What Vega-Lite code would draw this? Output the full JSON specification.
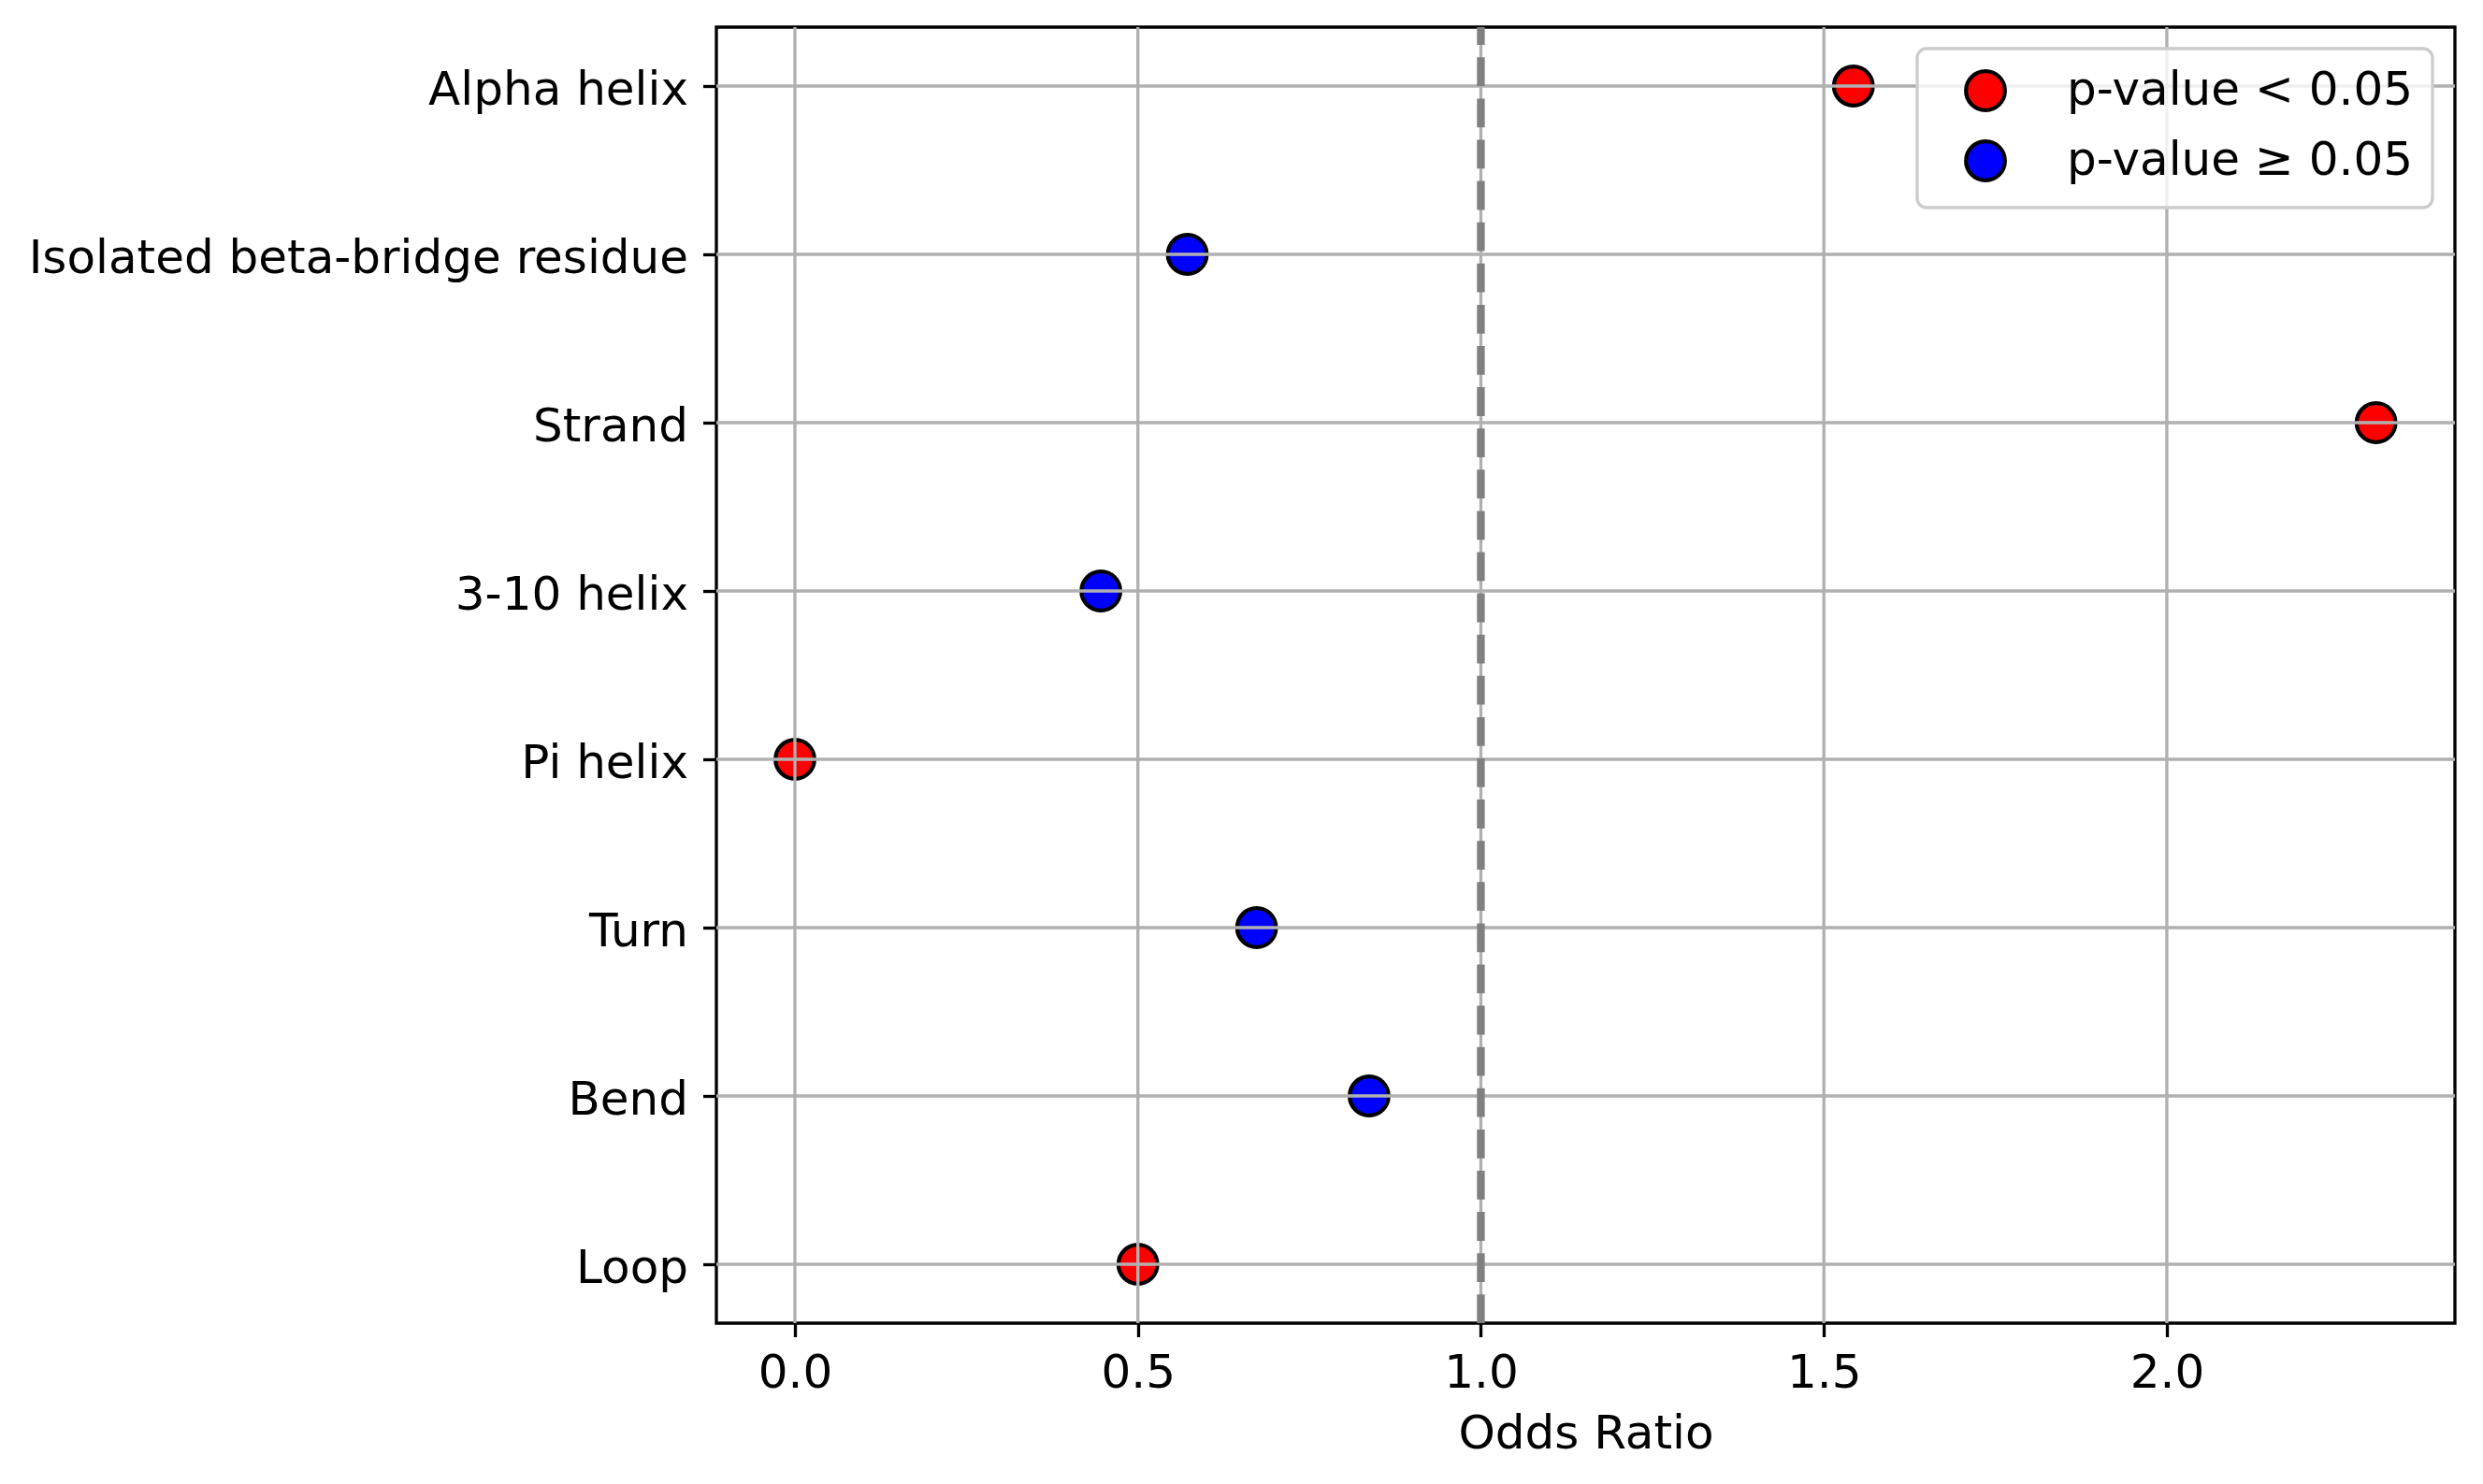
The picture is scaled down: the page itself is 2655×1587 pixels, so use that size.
{
  "$schema": "https://vega.github.io/schema/vega-lite/v6.json",
  "width": 1859,
  "height": 1386,
  "autosize": {"type": "none"},
  "padding": {"left": 766, "top": 29, "right": 30, "bottom": 172},
  "background": "white",
  "datasets": {
    "odds": [
      {"structure": "Alpha helix", "odds": 1.543, "sig": "p-value < 0.05"},
      {"structure": "Isolated beta-bridge residue", "odds": 0.572, "sig": "p-value ≥ 0.05"},
      {"structure": "Strand", "odds": 2.305, "sig": "p-value < 0.05"},
      {"structure": "3-10 helix", "odds": 0.446, "sig": "p-value ≥ 0.05"},
      {"structure": "Pi helix", "odds": 0.0, "sig": "p-value < 0.05"},
      {"structure": "Turn", "odds": 0.673, "sig": "p-value ≥ 0.05"},
      {"structure": "Bend", "odds": 0.837, "sig": "p-value ≥ 0.05"},
      {"structure": "Loop", "odds": 0.5, "sig": "p-value < 0.05"}
    ],
    "ticks": [
      {"odds": 0.0}, {"odds": 0.5}, {"odds": 1.0}, {"odds": 1.5}, {"odds": 2.0}
    ],
    "ref": [{"odds": 1.0}]
  },
  "layer": [
    {
      "data": {"name": "odds"},
      "mark": {"type": "point", "shape": "circle", "filled": true, "size": 1739, "stroke": "black", "strokeWidth": 4.17, "opacity": 1},
      "encoding": {
        "y": {
          "field": "structure",
          "type": "nominal",
          "sort": ["Alpha helix", "Isolated beta-bridge residue", "Strand", "3-10 helix", "Pi helix", "Turn", "Bend", "Loop"],
          "scale": {"type": "point", "padding": 0.35},
          "axis": {
            "title": null,
            "grid": false,
            "domain": false,
            "ticks": true,
            "tickSize": 14.5,
            "tickWidth": 3.33,
            "tickColor": "black",
            "labelFont": "DejaVu Sans",
            "labelFontSize": 50,
            "labelColor": "black",
            "labelPadding": 16,
            "labelBaseline": "alphabetic",
            "labelOffset": 19,
            "labelLimit": 1000,
            "labelOverlap": false
          }
        },
        "x": {
          "field": "odds",
          "type": "quantitative",
          "scale": {"domain": [-0.1145, 2.42], "nice": false, "zero": false},
          "axis": {
            "title": "Odds Ratio",
            "values": [0, 0.5, 1, 1.5, 2],
            "format": ".1f",
            "grid": false,
            "domain": false,
            "tickSize": 14.5,
            "tickWidth": 3.33,
            "tickColor": "black",
            "labelFont": "DejaVu Sans",
            "labelFontSize": 50,
            "labelColor": "black",
            "labelBaseline": "alphabetic",
            "labelPadding": 53.5,
            "labelFlush": false,
            "labelOverlap": false,
            "titleFont": "DejaVu Sans",
            "titleFontSize": 50,
            "titleFontWeight": "normal",
            "titleColor": "black",
            "titleBaseline": "alphabetic",
            "titleY": 133
          }
        },
        "color": {
          "field": "sig",
          "type": "nominal",
          "scale": {"domain": ["p-value < 0.05", "p-value ≥ 0.05"], "range": ["#ff0000", "#0000ff"]},
          "legend": {
            "title": null,
            "orient": "none",
            "legendX": 1284,
            "legendY": 23,
            "padding": 20,
            "cornerRadius": 10,
            "fillColor": "rgba(255,255,255,0.8)",
            "strokeColor": "#cccccc",
            "symbolType": "circle",
            "symbolSize": 1739,
            "symbolStrokeColor": "black",
            "symbolStrokeWidth": 4.17,
            "symbolOpacity": 1,
            "symbolOffset": 28,
            "labelOffset": 62,
            "labelFont": "DejaVu Sans",
            "labelFontSize": 50,
            "labelColor": "black",
            "labelLimit": 1000,
            "rowPadding": 15,
            "encode": {
              "legend": {"update": {"strokeWidth": {"value": 3.33}}}
            }
          }
        }
      }
    },
    {
      "data": {"name": "odds"},
      "mark": {"type": "rule", "color": "#b0b0b0", "strokeWidth": 3.33},
      "encoding": {
        "y": {"field": "structure", "type": "nominal", "sort": ["Alpha helix", "Isolated beta-bridge residue", "Strand", "3-10 helix", "Pi helix", "Turn", "Bend", "Loop"]}
      }
    },
    {
      "data": {"name": "ticks"},
      "mark": {"type": "rule", "color": "#b0b0b0", "strokeWidth": 3.33},
      "encoding": {
        "x": {"field": "odds", "type": "quantitative", "title": "Odds Ratio"}
      }
    },
    {
      "data": {"name": "ref"},
      "mark": {"type": "rule", "color": "#808080", "strokeWidth": 8.33, "strokeDash": [30.8, 13.3], "strokeDashOffset": 11.8},
      "encoding": {
        "x": {"field": "odds", "type": "quantitative", "title": "Odds Ratio"}
      }
    }
  ],
  "config": {
    "view": {"stroke": "black", "strokeWidth": 3.33, "fill": "white"},
    "font": "DejaVu Sans"
  }
}
